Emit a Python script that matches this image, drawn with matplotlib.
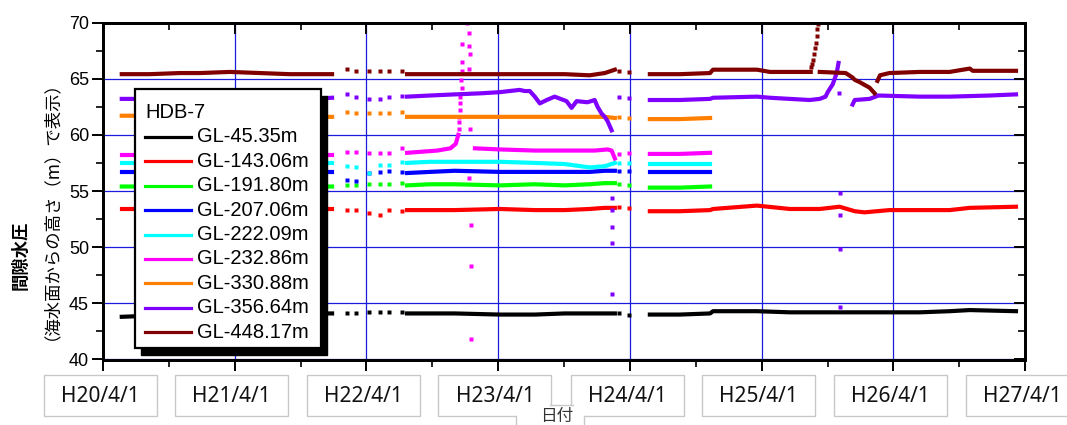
import pandas as pd
import matplotlib
matplotlib.use("Agg")
import matplotlib.pyplot as plt
from matplotlib.patches import Rectangle
from matplotlib.lines import Line2D
from matplotlib.ticker import MultipleLocator

# ---------------- data ----------------
# shared observation dates per measuring period
A_DATES = ['2008-05-23', '2008-08-08', '2008-10-31', '2008-12-25', '2009-03-19',
           '2009-06-10', '2009-09-01', '2009-10-27', '2009-12-27']
SP_DATES = ['2010-02-07', '2010-03-04', '2010-04-08', '2010-05-08', '2010-06-02',
            '2010-07-08', '2012-03-02', '2012-03-30']
B_DATES = ['2010-07-23', '2010-09-24', '2010-12-02', '2011-04-06', '2011-07-12',
           '2011-10-03', '2011-12-11', '2012-01-22', '2012-02-19']
CS_DATES = ['2012-05-26', '2012-08-17', '2012-11-09']
CL_DATES = ['2012-05-26', '2012-08-17', '2012-11-09', '2012-11-17', '2013-03-19',
            '2013-06-18', '2013-09-09', '2013-11-03', '2013-12-15', '2014-01-11',
            '2014-03-21', '2014-06-13', '2014-09-04', '2014-10-30', '2015-03-07']

# GL-45.35m
black_a = [43.8, 43.9, 43.9, 43.9, 44.0, 44.0, 44.0, 44.1, 44.1]
black_sp = [44.1, 44.1, 44.2, 44.2, 44.2, 44.2, 44.1, 44.0]
black_b = [44.1, 44.1, 44.1, 44.0, 44.0, 44.1, 44.1, 44.1, 44.1]
black_c = [44.0, 44.0, 44.1, 44.3, 44.3, 44.2, 44.2, 44.2, 44.2, 44.2, 44.2, 44.2, 44.3, 44.4, 44.3]

# GL-143.06m
red_a = [53.4, 53.4, 53.4, 53.4, 53.4, 53.4, 53.4, 53.4, 53.4]
red_sp = [53.3, 53.3, 53.0, 52.9, 53.3, 53.2, 53.6, 53.5]
red_b = [53.3, 53.3, 53.3, 53.4, 53.3, 53.3, 53.4, 53.5, 53.5]
red_c = [53.2, 53.2, 53.3, 53.4, 53.7, 53.4, 53.4, 53.6, 53.2, 53.1, 53.3, 53.3, 53.3, 53.5, 53.6]

# GL-191.80m
lime_a = [55.4, 55.4, 55.4, 55.5, 55.5, 55.4, 55.4, 55.4, 55.4]
lime_sp = [55.5, 55.5, 55.6, 55.6, 55.6, 55.7, 55.6, 55.5]
lime_b = [55.5, 55.6, 55.6, 55.5, 55.6, 55.5, 55.6, 55.7, 55.7]
lime_c = [55.3, 55.3, 55.4]

# GL-207.06m
blue_a = [56.7, 56.7, 56.7, 56.7, 56.7, 56.7, 56.7, 56.7, 56.7]
blue_sp = [56.0, 55.9, 56.6, 56.7, 56.8, 56.7, 56.8, 56.8]
blue_b = [56.6, 56.7, 56.8, 56.7, 56.7, 56.7, 56.7, 56.8, 56.8]
blue_c = [56.7, 56.7, 56.7]

# GL-222.09m
cyan_a = [57.5, 57.5, 57.5, 57.5, 57.5, 57.5, 57.5, 57.5, 57.5]
cyan_sp = [57.2, 57.1, 56.6, 57.3, 57.3, 57.6, 57.5, 57.5]
cyan_b = [57.5, 57.6, 57.6, 57.6, 57.5, 57.4, 57.1, 57.2, 57.5]
cyan_c = [57.4, 57.4, 57.4]

# GL-232.86m
mag_a = [58.2, 58.2, 58.2, 58.2, 58.2, 58.2, 58.2, 58.2, 58.2]
mag_sp = [58.5, 58.5, 58.4, 58.4, 58.4, 58.8, 58.3, 58.4]
mag_b1_dates = ['2010-07-23', '2010-10-15', '2010-11-20', '2010-12-05', '2010-12-12']
mag_b1 = [58.4, 58.6, 58.8, 59.2, 60.0]
mag_jump_dates = ['2010-12-13', '2010-12-14', '2010-12-14', '2010-12-16', '2010-12-18',
                  '2010-12-16', '2010-12-21', '2010-12-19', '2010-12-21', '2011-01-10',
                  '2010-12-21', '2011-01-13', '2011-01-10', '2010-12-22', '2011-01-10',
                  '2011-01-06', '2011-01-13', '2011-01-10', '2011-01-16', '2011-01-16',
                  '2011-01-16']
mag_jump = [60.5, 61.1, 61.6, 62.2, 62.8, 63.4, 64.2, 64.9, 65.7, 65.9,
            66.5, 67.2, 67.9, 68.1, 69.1, 70.0, 60.5, 56.2, 52.0, 48.3, 41.8]
mag_b2_dates = ['2011-01-27', '2011-04-06', '2011-07-12', '2011-10-03', '2011-12-25',
                '2012-01-30', '2012-02-10', '2012-02-19']
mag_b2 = [58.8, 58.7, 58.6, 58.6, 58.6, 58.7, 58.6, 57.9]
mag_c = [58.3, 58.3, 58.4]

# GL-330.88m
orange_a = [61.7, 61.7, 61.6, 61.6, 61.6, 61.6, 61.6, 61.6, 61.6]
orange_sp = [62.0, 61.9, 61.9, 61.9, 61.9, 62.0, 61.6, 61.5]
orange_b = [61.6, 61.6, 61.6, 61.6, 61.6, 61.6, 61.6, 61.6, 61.5]
orange_c = [61.4, 61.4, 61.5]

# GL-356.64m
purple_a = [63.2, 63.2, 63.2, 63.3, 63.3, 63.2, 63.2, 63.2, 63.3]
purple_sp = [63.6, 63.4, 63.2, 63.2, 63.4, 63.5, 63.4, 63.3]
purple_b_dates = ['2010-07-23', '2010-09-24', '2010-12-02', '2011-02-15', '2011-04-06',
                  '2011-05-31', '2011-06-14', '2011-06-28', '2011-07-12', '2011-07-26',
                  '2011-08-14', '2011-09-05', '2011-10-08', '2011-10-22', '2011-11-05',
                  '2011-12-05', '2011-12-25', '2012-01-02', '2012-01-13', '2012-01-22',
                  '2012-01-30', '2012-02-10']
purple_b = [63.4, 63.5, 63.6, 63.7, 63.8, 64.0, 63.9, 63.9, 63.4, 62.8, 63.1,
            63.4, 63.0, 62.4, 63.0, 62.9, 63.1, 62.5, 61.9, 61.6, 61.2, 60.4]
purple_c1_dates = ['2012-05-26', '2012-08-17', '2012-11-09', '2012-11-17', '2013-03-19',
                   '2013-04-24', '2013-06-18', '2013-08-12', '2013-09-09', '2013-09-25',
                   '2013-10-01', '2013-10-15', '2013-10-26', '2013-10-31']
purple_c1 = [63.1, 63.1, 63.2, 63.3, 63.4, 63.3, 63.2, 63.1, 63.2, 63.4,
             63.8, 64.5, 65.5, 66.4]
purple_c2_dates = ['2013-12-09', '2013-12-15', '2014-01-25', '2014-02-19', '2014-06-13',
                   '2014-09-04', '2014-12-24', '2015-03-07']
purple_c2 = [62.7, 63.1, 63.2, 63.5, 63.4, 63.4, 63.5, 63.6]
purple_out_dates = ['2012-02-12', '2012-02-12', '2012-02-10', '2012-02-12', '2012-02-10',
                    '2013-10-31', '2013-11-03', '2013-11-03', '2013-11-04', '2013-11-04']
purple_out = [54.4, 53.3, 51.8, 50.4, 45.8, 63.7, 54.8, 52.9, 49.8, 44.7]

# GL-448.17m
dred_a = [65.4, 65.4, 65.5, 65.5, 65.6, 65.5, 65.4, 65.4, 65.4]
dred_sp = [65.9, 65.7, 65.7, 65.7, 65.7, 65.7, 65.7, 65.6]
dred_b = [65.4, 65.4, 65.4, 65.4, 65.4, 65.4, 65.3, 65.5, 65.8]
dred_c1_dates = ['2012-05-26', '2012-08-17', '2012-11-09', '2012-11-17', '2013-03-19',
                 '2013-04-24', '2013-08-15']
dred_c1 = [65.4, 65.4, 65.5, 65.8, 65.8, 65.6, 65.6]
dred_jump_dates = ['2013-08-17', '2013-08-19', '2013-08-21', '2013-08-24', '2013-08-27',
                   '2013-08-29', '2013-08-31', '2013-09-01', '2013-09-03']
dred_jump = [66.0, 66.3, 66.7, 67.2, 67.7, 68.2, 68.8, 69.4, 69.9]
dred_c2_dates = ['2013-09-09', '2013-11-20', '2013-12-09', '2013-12-15', '2013-12-28',
                 '2014-01-25', '2014-02-08']
dred_c2 = [65.6, 65.5, 65.1, 64.9, 64.7, 64.2, 63.7]
dred_c3_dates = ['2014-02-16', '2014-02-23', '2014-03-21', '2014-06-13', '2014-09-04',
                 '2014-10-30', '2014-11-07', '2015-03-07']
dred_c3 = [64.8, 65.3, 65.5, 65.6, 65.6, 65.9, 65.7, 65.7]

LABELS = ['GL-45.35m', 'GL-143.06m', 'GL-191.80m', 'GL-207.06m', 'GL-222.09m',
          'GL-232.86m', 'GL-330.88m', 'GL-356.64m', 'GL-448.17m']
COLORS = ['#000000', '#ff0000', '#00ff00', '#0000ff', '#00ffff',
          '#ff00ff', '#ff8000', '#8000ff', '#800000']
TICK_LABELS = ['H20/4/1', 'H21/4/1', 'H22/4/1', 'H23/4/1', 'H24/4/1',
               'H25/4/1', 'H26/4/1', 'H27/4/1']
TITLE = 'HDB-7'

# ---------------- figure ----------------
W, H = 1067, 425
fig = plt.figure(figsize=(W / 100, H / 100), dpi=100)
ax = fig.add_axes([103 / W, 1 - 359.5 / H, 922 / W, 337 / H])

LW = 3.0
MS = 2.7


def d(lst):
    return pd.to_datetime(lst)


def line(dates, vals, c):
    ax.plot(d(dates), vals, color=c, lw=LW, solid_joinstyle='round', zorder=3)


def dots(dates, vals, c, ms=MS):
    ax.plot(d(dates), vals, ls='none', marker='s', ms=ms, color=c, mec='none', zorder=3)


# black / red: long third period
for a, sp, b, c, col in [(black_a, black_sp, black_b, black_c, COLORS[0]),
                         (red_a, red_sp, red_b, red_c, COLORS[1])]:
    line(A_DATES, a, col)
    dots(SP_DATES, sp, col)
    line(B_DATES, b, col)
    line(CL_DATES, c, col)

# short third period series
for a, sp, b, c, col in [(lime_a, lime_sp, lime_b, lime_c, COLORS[2]),
                         (blue_a, blue_sp, blue_b, blue_c, COLORS[3]),
                         (cyan_a, cyan_sp, cyan_b, cyan_c, COLORS[4])]:
    line(A_DATES, a, col)
    dots(SP_DATES, sp, col)
    line(B_DATES, b, col)
    line(CS_DATES, c, col)

# magenta
line(A_DATES, mag_a, COLORS[5])
dots(SP_DATES, mag_sp, COLORS[5])
line(mag_b1_dates, mag_b1, COLORS[5])
dots(mag_jump_dates, mag_jump, COLORS[5], ms=2.4)
line(mag_b2_dates, mag_b2, COLORS[5])
line(CS_DATES, mag_c, COLORS[5])

# orange
line(A_DATES, orange_a, COLORS[6])
dots(SP_DATES, orange_sp, COLORS[6])
line(B_DATES, orange_b, COLORS[6])
line(CS_DATES, orange_c, COLORS[6])

# purple
line(A_DATES, purple_a, COLORS[7])
dots(SP_DATES, purple_sp, COLORS[7])
line(purple_b_dates, purple_b, COLORS[7])
line(purple_c1_dates, purple_c1, COLORS[7])
line(purple_c2_dates, purple_c2, COLORS[7])
dots(purple_out_dates, purple_out, COLORS[7], ms=2.4)

# dark red
line(A_DATES, dred_a, COLORS[8])
dots(SP_DATES, dred_sp, COLORS[8])
line(B_DATES, dred_b, COLORS[8])
line(dred_c1_dates, dred_c1, COLORS[8])
dots(dred_jump_dates, dred_jump, COLORS[8], ms=2.4)
line(dred_c2_dates, dred_c2, COLORS[8])
line(dred_c3_dates, dred_c3, COLORS[8])

# ---------------- axes ----------------
x0, x1 = pd.Timestamp('2008-04-01'), pd.Timestamp('2015-04-01')
ax.set_xlim(x0, x1)
ax.set_ylim(40, 70)
major_x = [pd.Timestamp(f'{y}-04-01') for y in range(2008, 2016)]
minor_x = [pd.Timestamp(f'{y}-10-01') for y in range(2008, 2015)]
ax.set_xticks(major_x)
ax.set_xticks(minor_x, minor=True)
ax.yaxis.set_major_locator(MultipleLocator(5))
ax.yaxis.set_minor_locator(MultipleLocator(2.5))
ax.grid(True, which='major', color='#1a1ae0', lw=0.9, zorder=1)
ax.set_axisbelow(True)
ax.tick_params(which='both', direction='out', color='black', labelbottom=False)
ax.tick_params(which='major', length=8, width=1.4)
ax.tick_params(which='minor', length=5, width=1.2)
ax.tick_params(axis='y', labelsize=13, pad=2)
for t in ax.get_yticklabels():
    t.set_fontfamily('Liberation Sans')
for s in ax.spines.values():
    s.set_linewidth(1.8)

# inward ticks on the right and top sides
axr = ax.twinx()
axr.set_ylim(40, 70)
axr.yaxis.set_major_locator(MultipleLocator(5))
axr.yaxis.set_minor_locator(MultipleLocator(2.5))
axr.tick_params(which='both', direction='in', labelright=False)
axr.tick_params(which='major', length=8, width=1.4)
axr.tick_params(which='minor', length=5, width=1.2)
axt = ax.twiny()
axt.set_xlim(ax.get_xlim())
axt.set_xticks(ax.get_xticks())
axt.set_xticks(ax.get_xticks(minor=True), minor=True)
axt.tick_params(which='both', direction='in', labeltop=False)
axt.tick_params(which='major', length=8, width=1.4)
axt.tick_params(which='minor', length=5, width=1.2)
for a in (axr, axt):
    for s in a.spines.values():
        s.set_linewidth(1.8)


def fx(px):
    return px / W


def fy(py):
    return 1 - py / H


# x tick labels in boxes
span = (x1 - x0).days
for t, lab in zip(major_x, TICK_LABELS):
    cx = 103 + (t - x0).days / span * 922 - 3
    fig.add_artist(Rectangle((fx(cx - 56.5), fy(416)), 113 / W, 41 / H,
                             transform=fig.transFigure, fc='white', ec='#c8c8c8',
                             lw=1.0, zorder=5))
    fig.text(fx(cx), fy(396), lab, ha='center', va='center', fontsize=15,
             family='Noto Sans', color='#111111', zorder=6)

# x axis title box
fig.add_artist(Rectangle((fx(516), fy(425)), 68 / W, 20 / H, transform=fig.transFigure,
                         fc='white', ec='none', zorder=7))
for xs, ys in [([550, 573], [405, 405]), ([516, 516], [416, 425]), ([584, 584], [416, 425])]:
    fig.add_artist(Line2D([fx(v) for v in xs], [fy(v) for v in ys],
                          transform=fig.transFigure, color='#c8c8c8', lw=1.0, zorder=8))
fig.text(fx(557), fy(416), '日付', ha='center', va='center', fontsize=12,
         family=['Noto Sans CJK JP', 'DejaVu Sans'], color='#333333', zorder=9)

# y axis title
fig.text(fx(21), fy(255), '間隙水圧', rotation=90, ha='center', va='center',
         fontsize=12.5, fontweight='bold', family=['Noto Sans CJK JP', 'DejaVu Sans'])
fig.text(fx(42), fy(202), '（海水面からの高さ（m）で表示）', rotation=90, ha='center',
         va='center', fontsize=12.5, family=['Noto Sans CJK JP', 'DejaVu Sans'])

# legend with heavy shadow
lx0, lx1, ly0, ly1 = 135, 321, 89, 348
fig.add_artist(Rectangle((fx(lx0 + 6), fy(ly1 + 7)), (lx1 - lx0) / W, (ly1 - ly0) / H,
                         transform=fig.transFigure, fc='black', ec='black', zorder=10))
fig.add_artist(Rectangle((fx(lx0), fy(ly1)), (lx1 - lx0) / W, (ly1 - ly0) / H,
                         transform=fig.transFigure, fc='white', ec='black', lw=1.6, zorder=11))
fig.text(fx(145), fy(113), TITLE, ha='left', va='center', fontsize=14.5,
         family='Liberation Sans', zorder=12)
for i, (lab, col) in enumerate(zip(LABELS, COLORS)):
    yy = 137 + 24.4 * i
    fig.add_artist(Line2D([fx(145), fx(191)], [fy(yy), fy(yy)], transform=fig.transFigure,
                          color=col, lw=2.3, zorder=12))
    fig.text(fx(197), fy(yy), lab, ha='left', va='center', fontsize=14.5,
             family='Liberation Sans', zorder=12)

fig.savefig('out.png', dpi=100)
